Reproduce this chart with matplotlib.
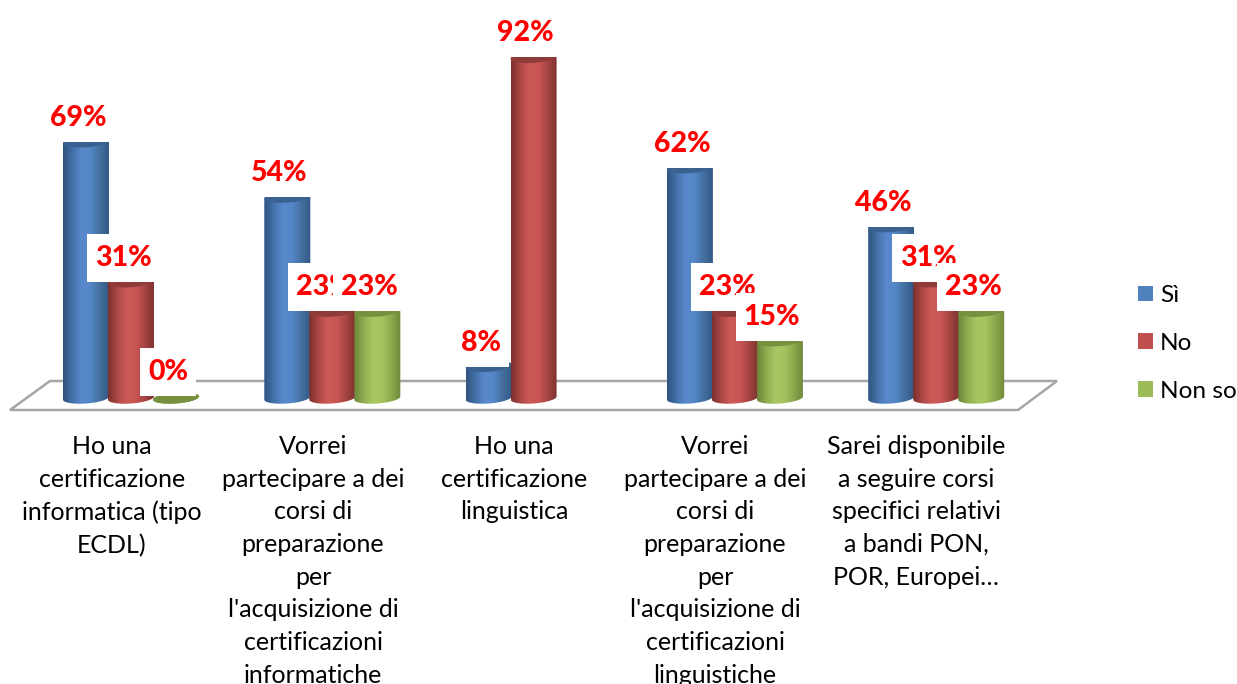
# ---------------------------------------------
# Grouped cylinder chart (Si / No / Non so)
# ---------------------------------------------

import numpy as np
import matplotlib
matplotlib.use("Agg")
import matplotlib.pyplot as plt
from matplotlib.colors import LinearSegmentedColormap
from matplotlib.patches import Patch, PathPatch, Polygon, Rectangle
from matplotlib.path import Path

# ----------------------------
# Data
# ----------------------------

categories = [
    "Ho una\ncertificazione\ninformatica (tipo\nECDL)",
    "Vorrei\npartecipare a dei\ncorsi di\npreparazione\nper\nl'acquisizione di\ncertificazioni\ninformatiche",
    "Ho una\ncertificazione\nlinguistica",
    "Vorrei\npartecipare a dei\ncorsi di\npreparazione\nper\nl'acquisizione di\ncertificazioni\nlinguistiche",
    "Sarei disponibile\na seguire corsi\nspecifici relativi\na bandi PON,\nPOR, Europei…",
]
series_names = ["Sì", "No", "Non so"]
si_values = [69, 54, 8, 62, 46]
no_values = [31, 23, 92, 23, 31]
nonso_values = [0, 23, None, 15, 23]

# ----------------------------
# Style
# ----------------------------

plt.rcParams["font.family"] = ["Lato", "DejaVu Sans"]

W, H = 1237, 684
PX_X0, PX_GROUP = 131.0, 201.3   # pixel x of first group, pixels per group
PX_Y0, PX_PCT = 398.0, 3.68      # pixel y of 0%, pixels per percent

solid = ["#4F81BD", "#C0504D", "#9BBB59"]
tops = ["#3A6190", "#8E3B39", "#75903F"]
ramps = [
    ["#2F5480", "#4371A8", "#5889CC", "#5487C8", "#44709F", "#345A87"],
    ["#7A302E", "#AD4846", "#CC5A57", "#C95654", "#A84644", "#803331"],
    ["#6C8539", "#8FAD50", "#A6C762", "#A3C45F", "#8CA94E", "#708A3B"],
]


def dx(px):
    return px / PX_GROUP


def dy(px):
    return px / PX_PCT


def data_x(px):
    return (px - PX_X0) / PX_GROUP


def data_y(py):
    return (PX_Y0 - py) / PX_PCT


fig = plt.figure(figsize=(W / 100, H / 100), dpi=100)
ax = fig.add_axes([0, 0, 1, 1])
ax.axis("off")

# ----------------------------
# Floor
# ----------------------------

floor_px = [(10, 410), (50, 381), (1057, 381), (1018, 410)]
floor = Polygon([(data_x(a), data_y(b)) for a, b in floor_px], closed=True,
                facecolor="white", edgecolor="#A6A6A6", linewidth=1.8, zorder=1)
ax.add_patch(floor)

# ----------------------------
# Cylinders
# ----------------------------

BAR_W = dx(46)
RX = BAR_W / 2
RY = dy(5.5)
TILT = 0.07 * (dy(1) / dx(1))
CAP_LIFT = dy(2.2)   # the 3D top sits a bit above the value
z = 2


def ellipse_arc(xc, yc, t):
    xs = xc + RX * np.cos(t)
    ys = yc + RY * np.sin(t) + TILT * (xs - xc)
    return np.column_stack([xs, ys])


def cylinder(xc, value, idx, z):
    top = value + CAP_LIFT if value > 0 else value
    # body goes down the left side, round the bottom, up the right side
    t_bottom = np.linspace(np.pi, 2 * np.pi, 40)
    t_top = np.linspace(0, np.pi, 40)
    pts = np.vstack([ellipse_arc(xc, 0, t_bottom), ellipse_arc(xc, top, t_top)])
    body = PathPatch(Path(np.vstack([pts, pts[0]])), facecolor="none", edgecolor="none",
                     transform=ax.transData, zorder=z)
    ax.add_patch(body)
    cmap = LinearSegmentedColormap.from_list("c", ramps[idx])
    grad = np.linspace(0, 1, 64).reshape(1, -1)
    im = ax.imshow(grad, cmap=cmap, aspect="auto", zorder=z,
                   extent=[xc - RX, xc + RX, -RY * 2, top + RY * 2])
    im.set_clip_path(body)
    cap = Polygon(ellipse_arc(xc, top, np.linspace(0, 2 * np.pi, 80)), closed=True,
                  facecolor=tops[idx], edgecolor="none", zorder=z + 0.5)
    ax.add_patch(cap)


series = [si_values, no_values, nonso_values]
offsets = [-1, 0, 1]
labels = []

for s, values in enumerate(series):
    for g, v in enumerate(values):
        if v is None:
            continue
        xc = g + offsets[s] * dx(45)
        cylinder(xc, v, s, z)
        z += 1
        labels.append((xc, v))

# ----------------------------
# Value labels (white box hides what is behind)
# ----------------------------

labels.sort(key=lambda p: (round(p[0] - 0.5), p[0]))
for xc, v in labels:
    tx = xc - dx(8)
    ty = v + dy(26)
    box_w = dx(72) if v >= 10 else dx(56)
    z += 1
    ax.add_patch(Rectangle((tx - box_w / 2, ty - dy(24)), box_w, dy(48),
                           facecolor="white", edgecolor="none", zorder=z))
    z += 1
    ax.text(tx, ty, f"{v}%", color="#FF0000", fontsize=20.5, fontweight="black",
            ha="center", va="center", zorder=z)

# ----------------------------
# Category labels
# ----------------------------

for g, name in enumerate(categories):
    ax.text(data_x(112 + 201 * g), data_y(435), name, fontsize=18, color="black",
            ha="center", va="top", linespacing=1.508, multialignment="center", zorder=z + 1)

# ----------------------------
# Legend
# ----------------------------

handles = [Patch(facecolor=c, edgecolor="none") for c in solid]
ax.legend(handles, series_names, loc="center left", frameon=False, fontsize=17.6,
          bbox_to_anchor=(1138 / W, 1 - 343.5 / H), bbox_transform=fig.transFigure,
          borderpad=0, borderaxespad=0,
          handlelength=0.62, handleheight=0.62, handletextpad=0.28, labelspacing=1.1)

ax.set_xlim(data_x(0), data_x(W))
ax.set_ylim(data_y(H), data_y(0))

fig.savefig("out.png", dpi=100)
